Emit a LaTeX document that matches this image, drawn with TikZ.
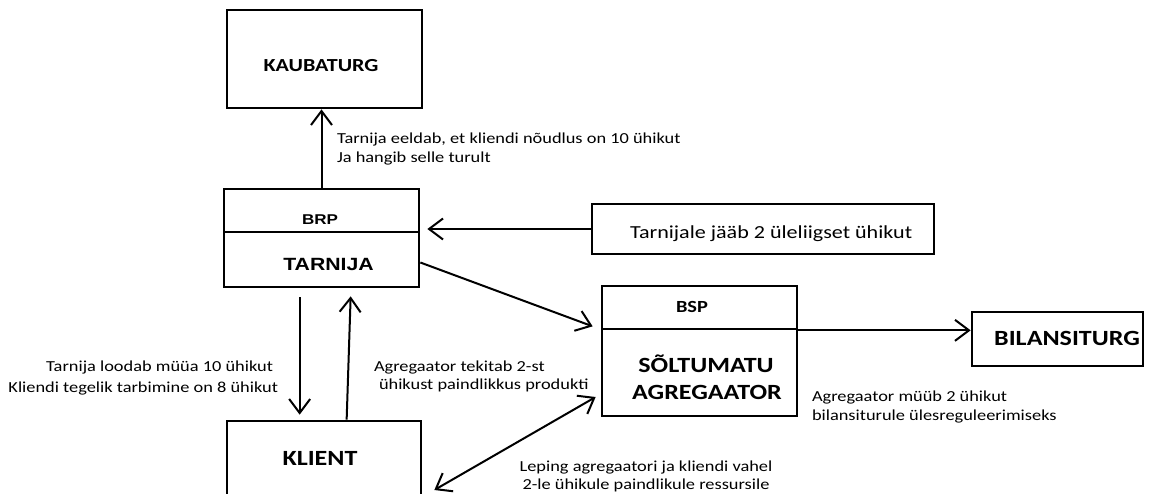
\documentclass[tikz,border=0pt]{standalone}
\usepackage{fontspec}
\setmainfont{Carlito}[FakeStretch=1.2]
\newfontfamily\arialfont{Liberation Sans}[FakeStretch=1.2]
\usetikzlibrary{arrows.meta,calc}

\tikzset{
  >={Straight Barb[length=14pt,width=21pt]},
  box/.style={draw, line width=2.7pt, rectangle, inner sep=0pt},
  conn/.style={->, line width=2pt},
  twoway/.style={<->, line width=2pt},
  txt/.style={inner sep=0pt, outer sep=0pt},
  lbl/.style={txt, font=\fontsize{15.3}{19}\selectfont},
  bigtitle/.style={txt, font=\bfseries\fontsize{21.7}{26}\selectfont},
}

\begin{document}
\begin{tikzpicture}[x=1pt,y=-1pt]
\path[use as bounding box, clip] (0,0) rectangle (1151,493);
\fill[white] (0,0) rectangle (1151,493);

% boxes
\node[box, minimum width=195pt, minimum height=98pt] (kaubaturg) at (324.5,59) {};
\node[box, minimum width=195pt, minimum height=43pt] (brp) at (321.5,210.5) {};
\node[box, minimum width=195pt, minimum height=55pt] (tarnija) at (321.5,259.5) {};
\node[box, minimum width=342pt, minimum height=50pt] (tarnijale) at (763,229) {};
\node[box, minimum width=195pt, minimum height=43pt] (bsp) at (699.5,307.5) {};
\node[box, minimum width=195pt, minimum height=87pt] (bspbody) at (699.5,372.5) {};
\node[box, minimum width=171pt, minimum height=54pt] (bilansiturg) at (1057.5,339) {};
\node[box, minimum width=194pt, minimum height=76pt] (klient) at (324,459) {};

% box texts
\node[txt, font=\bfseries\fontsize{18.4}{22}\selectfont] (kaubaturg-t) at (321,66) {KAUBATURG};
\node[txt, font=\arialfont\bfseries\fontsize{14.2}{17}\selectfont] (brp-t) at (320,220) {BRP};
\node[txt, font=\arialfont\bfseries\fontsize{17.7}{21}\selectfont] (tarnija-t) at (328.5,264) {TARNIJA};
\node[txt, font=\fontsize{18.4}{22}\selectfont, anchor=base west] (tarnijale-t) at (630,238) {Tarnijale jääb 2 üleliigset ühikut};
\node[txt, font=\bfseries\fontsize{17}{20}\selectfont] (bsp-t) at (692,307) {BSP};
\node[bigtitle, anchor=base] (soltumatu-t) at (706,372) {SÕLTUMATU};
\node[bigtitle] (agregaator-t) at (707,392) {AGREGAATOR};
\node[bigtitle] (bilansiturg-t) at (1067,338) {BILANSITURG};
\node[bigtitle] (klient-t) at (320,458) {KLIENT};

% connectors
\draw[conn] (brp.north) -- (brp.north |- kaubaturg.south);
\draw[conn, shorten >=7pt] (tarnijale.west) -- (tarnijale.west -| brp.east);
\draw[conn] ($(tarnija.east)+(0,3)$) -- ($(bsp.south west)+(-8,-4)$);
\draw[conn] (bsp.south east) -- (bsp.south east -| bilansiturg.west);
\draw[conn] ($(tarnija.south west)+(77,9)$) -- ($(klient.north west)+(74,-5)$);
\draw[conn] ($(klient.north west)+(121,0)$) -- ($(tarnija.south west)+(128,8)$);
\draw[twoway] ($(klient.east)+(12,31)$) -- ($(bspbody.west)+(-5,24.5)$);

% connector labels
\node[lbl, anchor=base west] (l-eeldab) at (337,143) {Tarnija eeldab, et kliendi nõudlus on 10 ühikut};
\node[lbl, anchor=base west] (l-hangib) at (337,162) {Ja hangib selle turult};
\node[lbl, anchor=base east] (l-loodab) at (273,371) {Tarnija loodab müüa 10 ühikut};
\node[lbl, anchor=base east] (l-tarbimine) at (278,392) {Kliendi tegelik tarbimine on 8 ühikut};
\node[lbl, anchor=base west] (l-tekitab) at (374,371) {Agregaator tekitab 2-st};
\node[lbl, anchor=base west] (l-produkti) at (379,389) {ühikust paindlikkus produkti};
\node[lbl, anchor=base] (l-leping) at (646,471) {Leping agregaatori ja kliendi vahel};
\node[lbl, anchor=base] (l-ressurs) at (646,489) {2-le ühikule paindlikule ressursile};
\node[lbl, anchor=base west] (l-myyb) at (812,401) {Agregaator müüb 2 ühikut};
\node[lbl, anchor=base west] (l-bilans) at (812,420) {bilansiturule ülesreguleerimiseks};
\end{tikzpicture}
\end{document}
